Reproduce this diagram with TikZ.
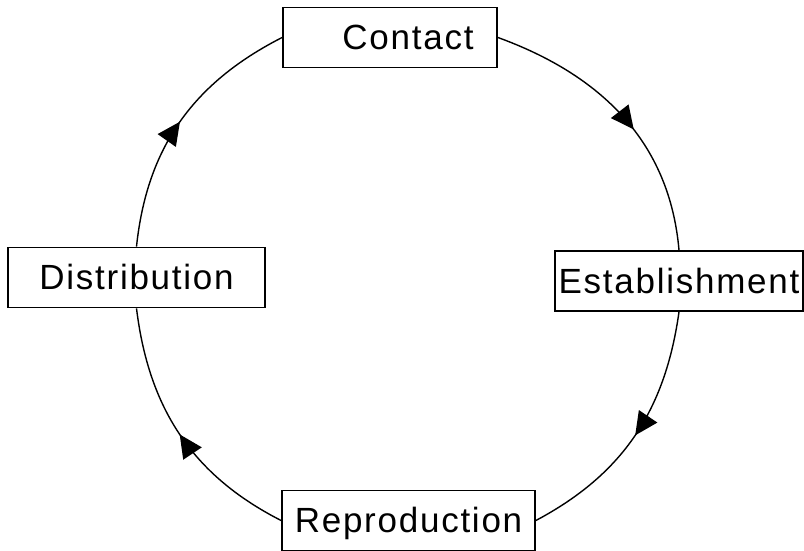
\documentclass[tikz,border=0pt]{standalone}
\usepackage{fontspec}
\setmainfont{Liberation Sans}[LetterSpace=5]
\usetikzlibrary{arrows.meta, decorations.markings}

\begin{document}
\begin{tikzpicture}[
  x=1pt, y=1pt,
  stage/.style={draw, line width=1.8pt, fill=white, inner sep=0pt, minimum height=60pt,
    text height=25pt, text depth=0pt, font=\fontsize{35}{40}\selectfont},
  cyclearc/.style={line width=1.4pt, postaction={decorate},
    decoration={markings, mark=at position #1 with {\arrow{Triangle[length=23pt, width=22pt]}}}}
]
\useasboundingbox (0,0) rectangle (804,551);
% Stages of the cycle
\node[stage, minimum width=214pt] (contact) at (390, 513.5) {\hspace*{36pt}Contact};
\node[stage, minimum width=248pt] (estab) at (679, 270) {Establishment};
\node[stage, minimum width=253pt] (repro) at (408.5, 30.5) {Reproduction};
\node[stage, minimum width=257pt] (dist) at (136.5, 273.5) {Distribution};

% Arcs, clockwise
\draw[cyclearc=0.56] (contact.east) to[out=-20, in=95] (estab.north);
\draw[cyclearc=0.5] (estab.south) to[out=-98, in=28] (repro.east);
\draw[cyclearc=0.5] (repro.west) to[out=153, in=-83] (dist.south);
\draw[cyclearc=0.5] (dist.north) to[out=84, in=207] (contact.west);

\end{tikzpicture}
\end{document}
